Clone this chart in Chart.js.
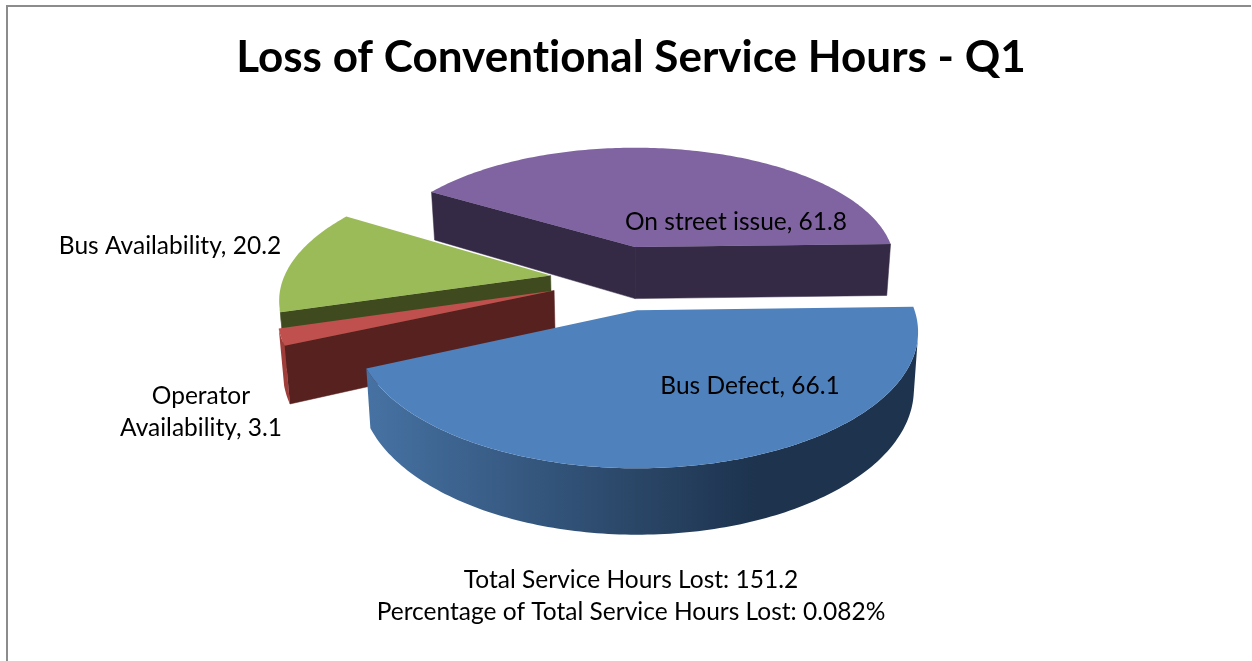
<!DOCTYPE html>
<html>
<head>
<meta charset="utf-8">
<title>Loss of Conventional Service Hours - Q1</title>
<script src="https://cdn.jsdelivr.net/npm/chart.js@4/dist/chart.umd.min.js"></script>
<style>
  html, body { margin: 0; background: #fff; overflow: hidden; }
  #frame { position: absolute; left: 6px; top: 5px; width: 1245px; height: 656px;
           border-top: 2px solid #8c8c8c; border-left: 2px solid #8c8c8c; box-sizing: border-box; }
  #myChart { position: absolute; left: 0; top: 0; }
</style>
</head>
<body>
<div id="frame"></div>
<canvas id="myChart" width="1252" height="661"></canvas>
<script>
const chartTitle = 'Loss of Conventional Service Hours - Q1';
const summaryLines = ['Total Service Hours Lost: 151.2', 'Percentage of Total Service Hours Lost: 0.082%'];
const categories = ['Bus Defect', 'Operator Availability', 'Bus Availability', 'On street issue'];
const hoursLost = [66.1, 3.1, 20.2, 61.8];

const topColors = ['#4f81bd', '#c0504d', '#9bbb59', '#8064a2'];
const cutColors = ['#1d334e', '#57211f', '#3f4b1f', '#352a45'];
const rimColors = [null, '#9e3d3a', '#3f4b1f', '#352a45'];

const fontFamily = 'Lato, Carlito, Calibri, sans-serif';

// pie is flat in chart.js, this plugin lays each arc on a tilted plane
const tiltedPie = {
  id: 'tiltedPie',
  beforeDraw(chart) {
    // non zero spacing switches off the Lato ligatures
    chart.ctx.letterSpacing = '0.01px';
  },
  beforeDatasetDraw(chart, args, opts) {
    const ctx = chart.ctx;
    const arcs = chart.getDatasetMeta(0).data;

    const project = (u, v, down) => {
      const f = 1 / (1 - opts.perspective * v);
      const k = down ? opts.bottomShrink : 1;
      return {
        x: opts.originX + u * f * k,
        y: opts.originY + opts.squash * v * f + (down ? opts.height * f : 0)
      };
    };

    const polygon = (pts) => {
      ctx.beginPath();
      pts.forEach((p, i) => (i ? ctx.lineTo(p.x, p.y) : ctx.moveTo(p.x, p.y)));
      ctx.closePath();
    };

    const isVisible = (quad) => {
      let area = 0;
      quad.forEach((p, q) => {
        const r = quad[(q + 1) % 4];
        area += p.x * r.y - r.x * p.y;
      });
      return area < 0;
    };

    opts.drawOrder.forEach((i) => {
      const arc = arcs[i];
      const [ex, ey] = opts.explode[i];
      const steps = Math.max(4, Math.ceil((arc.endAngle - arc.startAngle) / (Math.PI / 180)));
      const top = [project(ex, ey, false)];
      const bottom = [project(ex, ey, true)];
      for (let s = 0; s <= steps; s++) {
        const a = arc.startAngle + (arc.endAngle - arc.startAngle) * s / steps;
        const u = ex + arc.outerRadius * Math.cos(a);
        const v = ey + arc.outerRadius * Math.sin(a);
        top.push(project(u, v, false));
        bottom.push(project(u, v, true));
      }

      let rim = rimColors[i];
      if (!rim) {
        rim = ctx.createLinearGradient(opts.originX - 270, 0, opts.originX + 272, 0);
        rim.addColorStop(0, '#4672a3');
        rim.addColorStop(0.5, '#2a4667');
        rim.addColorStop(0.72, '#1d334e');
        rim.addColorStop(1, '#1d334e');
      }

      // the two cut faces from the centre, if turned to the viewer
      const last = top.length - 1;
      [[0, 1], [last, 0]].forEach(([n, m]) => {
        const quad = [top[n], top[m], bottom[m], bottom[n]];
        if (!isVisible(quad)) return;
        ctx.fillStyle = cutColors[i];
        ctx.strokeStyle = cutColors[i];
        ctx.lineWidth = 0.5;
        polygon(quad);
        ctx.fill();
        ctx.stroke();
      });

      // outer wall as one piece so strips leave no seams
      let runTop = [];
      let runBottom = [];
      const flush = () => {
        if (runTop.length) {
          ctx.fillStyle = rim;
          polygon(runTop.concat(runBottom.slice().reverse()));
          ctx.fill();
        }
        runTop = [];
        runBottom = [];
      };
      for (let n = 1; n < last; n++) {
        if (isVisible([top[n], top[n + 1], bottom[n + 1], bottom[n]])) {
          if (!runTop.length) {
            runTop.push(top[n]);
            runBottom.push(bottom[n]);
          }
          runTop.push(top[n + 1]);
          runBottom.push(bottom[n + 1]);
        } else {
          flush();
        }
      }
      flush();

      ctx.fillStyle = topColors[i];
      polygon(top);
      ctx.fill();
    });

    return false;
  },
  afterDraw(chart, args, opts) {
    const ctx = chart.ctx;
    ctx.save();
    ctx.fillStyle = '#000';
    ctx.font = opts.labelFont;
    ctx.textAlign = 'center';
    ctx.textBaseline = 'middle';
    categories.forEach((name, i) => {
      const [x, y] = opts.labelAt[i];
      const text = name + ', ' + hoursLost[i];
      if (opts.labelWrap[i]) {
        const cut = text.indexOf(' ');
        ctx.fillText(text.slice(0, cut), x, y - 16);
        ctx.fillText(text.slice(cut + 1), x, y + 16);
      } else {
        ctx.fillText(text, x, y);
      }
    });
    ctx.restore();
  }
};

new Chart(document.getElementById('myChart'), {
  type: 'pie',
  data: {
    labels: categories,
    datasets: [{ data: hoursLost, backgroundColor: topColors, borderWidth: 0, radius: 268 }]
  },
  options: {
    responsive: false,
    animation: false,
    rotation: 88.5,
    layout: { padding: { left: 10 } },
    plugins: {
      legend: { display: false },
      tooltip: { enabled: false },
      title: {
        display: true,
        text: chartTitle,
        color: '#000',
        font: { family: fontFamily, size: 44, weight: 'bold' },
        padding: { top: 31, bottom: 10 }
      },
      subtitle: {
        display: true,
        text: summaryLines,
        position: 'bottom',
        color: '#000',
        font: { family: fontFamily, size: 24.5, weight: 'normal', lineHeight: 1.3 },
        padding: { top: 10, bottom: 33 }
      },
      tiltedPie: {
        originX: 636,
        originY: 281.5,
        squash: 0.463,
        perspective: 0.00057,
        height: 54,
        bottomShrink: 0.985,
        drawOrder: [3, 2, 1, 0],
        explode: [[1, 60], [-81, 19], [-86, -13], [-1, -78]],
        labelFont: '24.5px ' + fontFamily,
        labelAt: [[750, 386], [201, 412], [170, 246], [736, 222]],
        labelWrap: [false, true, false, false]
      }
    }
  },
  plugins: [tiltedPie]
});
</script>
</body>
</html>
